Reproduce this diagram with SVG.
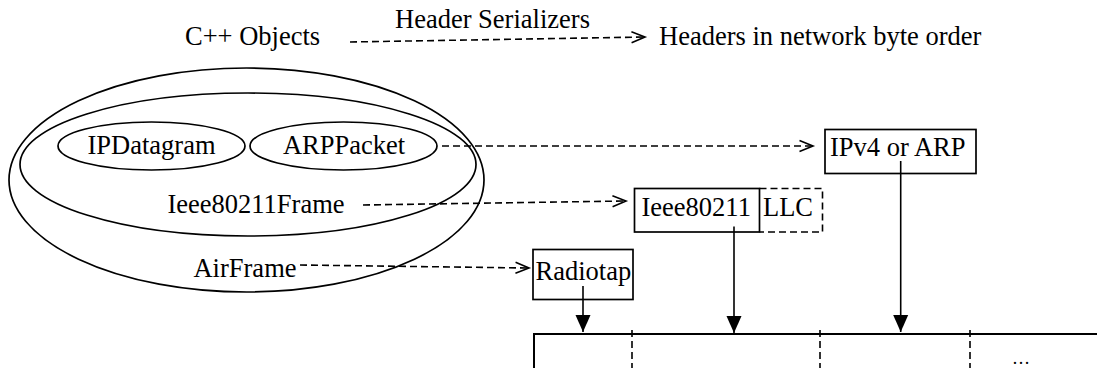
<svg xmlns="http://www.w3.org/2000/svg" width="1097" height="368" viewBox="0 0 1097 368">
<style>
text{font-family:"Liberation Serif","Times New Roman",serif;font-size:26.5px;fill:#000}
.sh{fill:none;stroke:#000;stroke-width:1.7}
.dash{fill:none;stroke:#000;stroke-width:1.6;stroke-dasharray:7 4}
.solid{fill:none;stroke:#000;stroke-width:1.6}
.mid{text-anchor:middle}
</style>
<defs>
<marker id="open" markerUnits="userSpaceOnUse" markerWidth="15" markerHeight="13" refX="13.5" refY="6" orient="auto" overflow="visible">
<path d="M0,0.5 L13.5,6 L0,11.5" fill="none" stroke="#000" stroke-width="1.6"/>
</marker>
<marker id="fill" markerUnits="userSpaceOnUse" markerWidth="18" markerHeight="16" refX="17" refY="7.5" orient="auto" overflow="visible">
<path d="M0,0 L17,7.5 L0,15 z" fill="#000"/>
</marker>
</defs>
<rect width="1097" height="368" fill="#fff"/>
<g id="legend">
<text x="185" y="45">C++ Objects</text>
<text x="395" y="28">Header Serializers</text>
<text x="659" y="45">Headers in network byte order</text>
</g>
<g id="airframe">
<ellipse class="sh" cx="246.5" cy="180" rx="237.5" ry="112"/>
<text class="mid" x="245" y="277">AirFrame</text>
</g>
<g id="ieee80211frame">
<ellipse class="sh" cx="248" cy="164.5" rx="228" ry="71.5"/>
<text class="mid" x="256" y="213">Ieee80211Frame</text>
</g>
<g id="ipdatagram">
<ellipse class="sh" cx="151.5" cy="146" rx="93.5" ry="24"/>
<text class="mid" x="151.5" y="154">IPDatagram</text>
</g>
<g id="arppacket">
<ellipse class="sh" cx="343.5" cy="146" rx="93.5" ry="24"/>
<text class="mid" x="344" y="154">ARPPacket</text>
</g>
<g id="ipv4">
<rect class="sh" x="825" y="129.5" width="151" height="44"/>
<text x="830" y="156">IPv4 or ARP</text>
</g>
<g id="ieee80211">
<rect class="sh" x="634.5" y="188.5" width="125" height="43.5"/>
<text x="641.5" y="216">Ieee80211</text>
</g>
<g id="llc">
<path class="dash" d="M759.5,188.5 H822.5 V232 H759.5"/>
<text x="763" y="216">LLC</text>
</g>
<g id="radiotap">
<rect class="sh" x="533" y="249.5" width="100" height="50"/>
<text x="535.5" y="280">Radiotap</text>
</g>
<g id="packet">
<path d="M534,368 V334 H1097" fill="none" stroke="#000" stroke-width="2"/>
<path class="dash" d="M632,330 V368 M820,330 V368 M970,330 V368" stroke-dasharray="8 5"/>
<text class="mid" x="1021" y="364" style="font-size:18px">…</text>
</g>
<g id="connectors">
<path class="dash" d="M350,42 L645,37" marker-end="url(#open)"/>
<path class="dash" d="M442,146 L813,146" marker-end="url(#open)"/>
<path class="dash" d="M363,205 L626,201" marker-end="url(#open)"/>
<path class="dash" d="M300,265 L529,268" marker-end="url(#open)"/>
<path class="solid" d="M583,286 V332" marker-end="url(#fill)"/>
<path class="solid" d="M734,226.5 V333" marker-end="url(#fill)"/>
<path class="solid" d="M900.7,161 V332" marker-end="url(#fill)"/>
</g>
</svg>
